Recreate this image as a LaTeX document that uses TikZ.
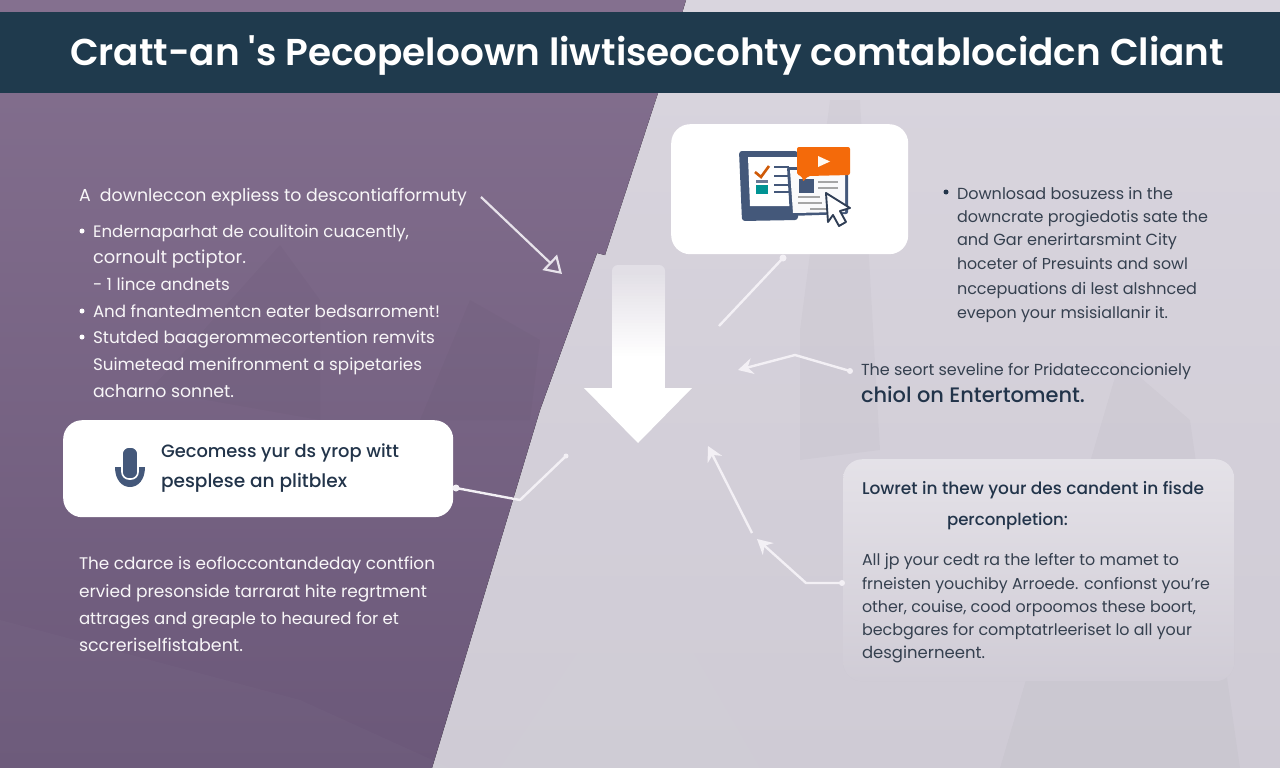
\documentclass[tikz,border=0pt]{standalone}
\usepackage{fontspec}
\usepackage{graphicx}
\setmainfont{Poppins}
\newfontfamily\semifont{Poppins SemiBold}
\newfontfamily\medfont{Poppins Medium}
\usetikzlibrary{arrows.meta}
\definecolor{band}{HTML}{1F3A4D}
\definecolor{inkdark}{HTML}{22344A}
\definecolor{inkbody}{HTML}{35404F}
\definecolor{purpletop}{HTML}{84708F}
\definecolor{purplebot}{HTML}{6B5879}
\definecolor{lighttop}{HTML}{D9D5DE}
\definecolor{lightbot}{HTML}{CFCBD5}
\definecolor{slateicon}{HTML}{44587A}
\definecolor{orangeicon}{HTML}{F46A0A}
\definecolor{linkline}{HTML}{F3F0F5}
\newcommand{\fitline}[2]{\resizebox{#1pt}{!}{#2}}
\tikzset{
  x=1pt,y=-1pt,
  txt/.style={anchor=base west,inner sep=0pt,outer sep=0pt,font=\fontsize{16}{16}\selectfont},
  onpurple/.style={txt,text=white!94!purpletop},
  onlight/.style={txt,text=inkbody},
  ondark/.style={txt,text=inkdark},
  card/.style={draw=none,fill=white,rounded corners=19pt,inner sep=0pt,anchor=north west},
  linkpath/.style={draw=linkline,line width=2.4pt,line join=round},
  tipped/.style={linkpath,-{Stealth[length=15pt,width=16pt,inset=5pt]}},
  opentip/.style={draw=linkline!90!purpletop,line width=2.2pt,-{Triangle[open,length=17pt,width=21pt,line width=2.2pt]}},
  enddot/.style={circle,fill=linkline,inner sep=0pt,minimum size=7pt},
  faint/.style={fill=#1,fill opacity=.018,draw=none},
  bul/.style={circle,inner sep=0pt,minimum size=5pt}
}
\begin{document}
\begin{tikzpicture}
\useasboundingbox (0,0) rectangle (1280,768);
% background
\fill[top color=lighttop,bottom color=lightbot] (0,0) rectangle (1280,768);
\fill[faint=white] (820,93) -- (1010,300) -- (1280,200) -- (1280,93) -- cycle;
\fill[faint=black] (800,330) -- (830,100) -- (860,100) -- (880,450) -- (800,460) -- cycle;
\fill[faint=white] (500,768) -- (640,560) -- (760,768) -- cycle;
\fill[faint=black] (1000,768) -- (1120,360) -- (1190,420) -- (1240,768) -- cycle;
\fill[top color=purpletop,bottom color=purplebot]
  (0,0) -- (686,0) -- (658,93) -- (605,255) -- (597,253) -- (540,410) -- (432,768) -- (0,768) -- cycle;
\fill[faint=black] (150,390) -- (280,245) -- (320,300) -- (320,420) -- cycle;
\fill[faint=black] (420,420) -- (470,300) -- (540,340) -- (530,420) -- cycle;
\fill[faint=white] (0,620) -- (300,700) -- (450,768) -- (0,768) -- cycle;
\fill[band] (0,12) rectangle (1280,93);
\node[txt,text=white,font=\semifont\fontsize{32}{32}\selectfont] (title) at (70,65)
  {\fitline{1154}{Cratt-an 's Pecopeloown liwtiseocohty comtablocidcn Cliant}};

% big arrow
\fill[white!25!lighttop,rounded corners=6pt] (612,388) -- (612,265) -- (665,265) -- (665,388) -- cycle;
\foreach \yy [evaluate=\yy as \mixval using {min(100,25+(\yy-272)*75/84)}] in {272,275,...,356}{
  \fill[white!\mixval!lighttop] (612,\yy) rectangle (665,388);
}
\fill[white] (584,388) -- (692,388) -- (638,443) -- cycle;

% top card + icon
\node[card,minimum width=237pt,minimum height=130pt] (iconcard) at (671,124) {};
\fill[slateicon,rounded corners=3pt] (739,151) -- (798,151) -- (798,220) -- (742,221) -- cycle;
\fill[white] (748,157) -- (798,157) -- (798,206) -- (750,206) -- cycle;
\draw[draw=orangeicon!85!black,line width=2.6pt] (755,172) -- (761,177) -- (769,166);
\foreach \yy in {167,176,185,192}{\draw[slateicon,line width=1.4pt] (774,\yy) -- (789,\yy);}
\fill[slateicon!80] (756,180) rectangle (768,183);
\fill[teal!85!cyan] (756,185) rectangle (768,194);
\fill[slateicon,rounded corners=2pt] (787,167) -- (848,167) -- (848,214) -- (790,216) -- cycle;
\fill[white!88!lighttop] (790,170) -- (845,170) -- (845,212) -- (793,213) -- cycle;
\fill[slateicon] (799,179) -- (814,179) -- (814,193) -- (799,193) -- cycle;
\foreach \xa/\xb/\yy in {818/838/182,818/838/188,798/820/197,798/822/203,810/826/209}{\draw[gray!70,line width=1.3pt] (\xa,\yy) -- (\xb,\yy);}
\fill[orangeicon,rounded corners=2pt] (797,147) -- (850,147) -- (850,175) -- (808,176) -- (803,182) -- (802,176) -- (797,175) -- cycle;
\fill[white!95!orange] (818,156) -- (830,161.5) -- (818,167) -- cycle;
\draw[slateicon!70!black,fill=white,line width=1.9pt,line join=round]
  (826,193) -- (850,208) -- (840,211) -- (846,222) -- (839,226) -- (833,215) -- (828,222) -- cycle;

% left text
\node[onpurple] (leftHead) at (79,201) {\fitline{388}{A\ \ downleccon expliess to descontiafformuty}};
\node[bul,fill=white] (lb1) at (82,231) {};
\node[onpurple] (l1) at (93,237) {\fitline{316}{Endernaparhat de coulitoin cuacently,}};
\node[onpurple] (l2) at (93,263) {\fitline{153}{cornoult pctiptor.}};
\node[onpurple] (l3) at (93,290) {\fitline{137}{- 1 lince andnets}};
\node[bul,fill=white] (lb2) at (82,311) {};
\node[onpurple] (l4) at (93,317) {\fitline{347}{And fnantedmentcn eater bedsarroment!}};
\node[bul,fill=white] (lb3) at (82,337) {};
\node[onpurple] (l5) at (93,343) {\fitline{342}{Stutded baagerommecortention remvits}};
\node[onpurple] (l6) at (93,370) {\fitline{329}{Suimetead menifronment a spipetaries}};
\node[onpurple] (l7) at (93,397) {\fitline{141}{acharno sonnet.}};

% mic card
\node[card,minimum width=390pt,minimum height=97pt] (miccard) at (63,420) {};
\fill[slateicon] (115,467) .. controls (115,480) and (122,487) .. (130,487) .. controls (138,487) and (145,480) .. (145,467) -- cycle;
\draw[white,line width=1.6pt,fill=slateicon,rounded corners=7pt] (122,447) rectangle (138,479);
\node[ondark,font=\medfont\fontsize{17}{17}\selectfont] (mic1) at (161,457) {\fitline{238}{Gecomess yur ds yrop witt}};
\node[ondark,font=\medfont\fontsize{17}{17}\selectfont] (mic2) at (161,487) {\fitline{186}{pesplese an plitblex}};

% lower-left paragraph
\node[onpurple] (p1) at (79,569) {\fitline{356}{The cdarce is eofloccontandeday contfion}};
\node[onpurple] (p2) at (79,597) {\fitline{348}{ervied presonside tarrarat hite regrtment}};
\node[onpurple] (p3) at (79,624) {\fitline{320}{attrages and greaple to heaured for et}};
\node[onpurple] (p4) at (79,651) {\fitline{164}{sccreriselfistabent.}};

% right upper text
\node[bul,fill=inkdark] (rb) at (946,192) {};
\node[onlight] (r1) at (957,199) {\fitline{216}{Downlosad bosuzess in the}};
\node[onlight] (r2) at (957,222) {\fitline{251}{downcrate progiedotis sate the}};
\node[onlight] (r3) at (957,245) {\fitline{220}{and Gar enerirtarsmint City}};
\node[onlight] (r4) at (957,269) {\fitline{231}{hoceter of Presuints and sowl}};
\node[onlight] (r5) at (957,294) {\fitline{240}{nccepuations di lest alshnced}};
\node[onlight] (r6) at (957,318) {\fitline{211}{evepon your msisiallanir it.}};

\node[onlight] (s1) at (861,375) {\fitline{330}{The seort seveline for Pridatecconcioniely}};
\node[ondark,font=\medfont\fontsize{18}{18}\selectfont] (s2) at (861,402) {\fitline{224}{chiol on Entertoment.}};

% right card
\node[card,fill=lightbot,minimum width=391pt,minimum height=222pt,top color=white!30!lighttop,bottom color=lightbot!98!white] (textcard) at (843,459) {};
\node[ondark,font=\medfont\fontsize{16}{16}\selectfont] (h1) at (862,494) {\fitline{342}{Lowret in thew your des candent in fisde}};
\node[ondark,font=\medfont\fontsize{16}{16}\selectfont] (h2) at (947,525) {\fitline{121}{perconpletion:}};
\node[onlight] (b1) at (862,565) {\fitline{317}{All jp your cedt ra the lefter to mamet to}};
\node[onlight] (b2) at (862,589) {\fitline{348}{frneisten youchiby Arroede. confionst you're}};
\node[onlight] (b3) at (862,612) {\fitline{334}{other, couise, cood orpoomos these boort,}};
\node[onlight] (b4) at (862,635) {\fitline{330}{becbgares for comptatrleeriset lo all your}};
\node[onlight] (b5) at (862,658) {\fitline{123}{desginerneent.}};

% connectors
\coordinate (a1s) at (481,197);
\coordinate (a1e) at (562,274);
\draw[opentip] (a1s) -- (a1e);

\node[enddot] (d2) at (783,258) {};
\coordinate (a2e) at (719,326);
\draw[linkpath] (d2.center) -- (a2e);

\node[enddot,minimum size=6pt] (d3) at (850,371) {};
\coordinate (a3m) at (795,355);
\coordinate (a3e) at (738,370);
\draw[tipped] (d3.center) -- (a3m) -- (a3e);

\coordinate (a4s) at (752,533);
\coordinate (a4e) at (708,446);
\draw[tipped] (a4s) -- (a4e);

\node[enddot,minimum size=6pt] (d5) at (842,583) {};
\coordinate (a5m) at (806,583);
\coordinate (a5e) at (757,539);
\draw[tipped] (d5.center) -- (a5m) -- (a5e);

\node[enddot,minimum size=7pt] (d6a) at (456,488) {};
\coordinate (a6m) at (520,500);
\node[enddot,minimum size=5pt] (d6b) at (566,456) {};
\draw[linkpath] (d6a.center) -- (a6m) -- (d6b.center);
\end{tikzpicture}
\end{document}
